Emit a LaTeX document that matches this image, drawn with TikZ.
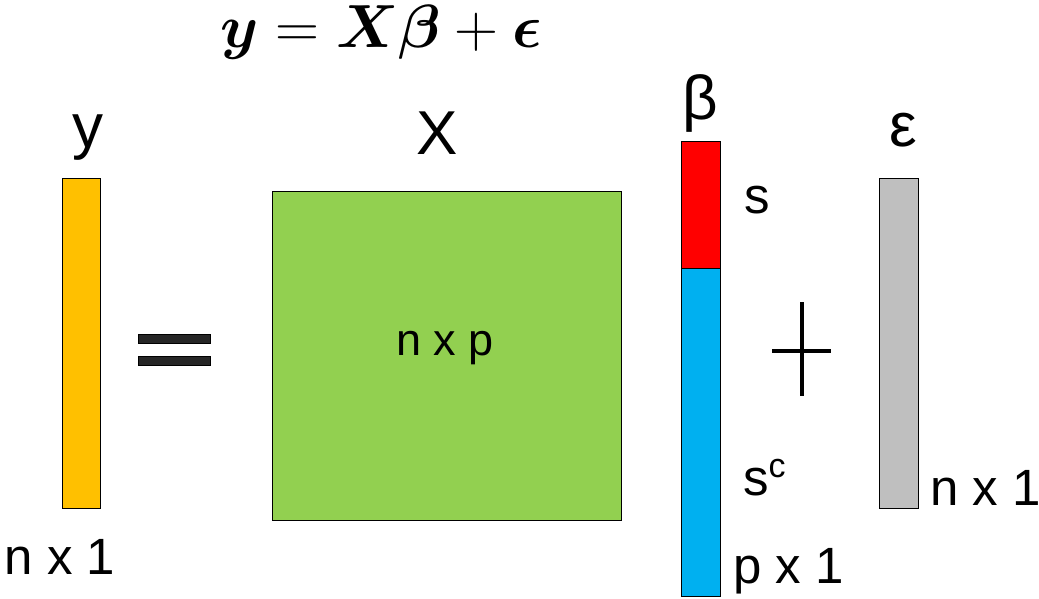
\documentclass[tikz,border=0pt]{standalone}
\usepackage{graphicx}
\usepackage{amsmath,bm}
\usepackage{fontspec}
\setmainfont{Liberation Sans}
\usetikzlibrary{positioning}

\definecolor{ybar}{HTML}{FFC000}
\definecolor{xmat}{HTML}{92D050}
\definecolor{bsupp}{HTML}{FF0000}
\definecolor{bcomp}{HTML}{00B0F0}
\definecolor{ebar}{HTML}{BFBFBF}
\definecolor{signfill}{HTML}{262626}

\begin{document}
\begin{tikzpicture}[
        x=1pt, y=-1pt,
        block/.style={rectangle, draw=black, line width=1.2pt, inner sep=0pt, anchor=north west},
        vec/.style={block, minimum width=38pt},
        big/.style={font=\fontsize{62}{70}\selectfont, inner sep=0pt, anchor=base},
        dim/.style={font=\fontsize{51}{60}\selectfont, inner sep=0pt, anchor=base},
        sign/.style={line width=4pt},
    ]
    \useasboundingbox (0,0) rectangle (1039,599);

    % === Equation ===
    \node[inner sep=0pt, anchor=base] (eq) at (381,48) {\scalebox{2.45}{\Huge$\bm{y} = \bm{X}\bm{\beta} + \bm{\epsilon}$}};

    % === y ===
    \node[vec, fill=ybar, minimum height=330pt] (yv) at (62,178) {};
    \node[big] (ylbl) at (88,148) {y};
    \node[dim] (ydim) at (60,574) {n x 1};

    % equals
    \filldraw[fill=signfill, draw=black, line width=0.8pt] (138,334) rectangle (210,343);
    \filldraw[fill=signfill, draw=black, line width=0.8pt] (138,356) rectangle (210,365);

    % === X ===
    \node[block, fill=xmat, minimum width=349pt, minimum height=329pt] (xm) at (272,191) {};
    \node[big] (xlbl) at (437,155) {X};
    \node[dim, font=\fontsize{45}{52}\selectfont] (xdim) at (445,355) {n x p};

    % === beta ===
    \node[vec, fill=bsupp, minimum width=39pt, minimum height=127pt] (bs) at (681,141) {};
    \node[vec, fill=bcomp, minimum width=39pt, minimum height=328pt] (bc) at (681,268) {};
    \node[big] (blbl) at (700,120) {β};
    \node[dim] (slbl) at (757,213) {s};
    \node[dim, anchor=base west] (sclbl) at (743,495) {s\raisebox{18pt}{\fontsize{34}{40}\selectfont c}};
    \node[dim, anchor=base west] (bdim) at (733,583) {p x 1};

    % plus
    \draw[sign] (772,351) -- (831,351);
    \draw[sign] (802,302) -- (802,396);

    % === epsilon ===
    \node[vec, fill=ebar, minimum width=39pt, minimum height=330pt] (ev) at (879,178) {};
    \node[big] (elbl) at (903,147) {ε};
    \node[dim, anchor=base west] (edim) at (930,505) {n x 1};

\end{tikzpicture}
\end{document}
